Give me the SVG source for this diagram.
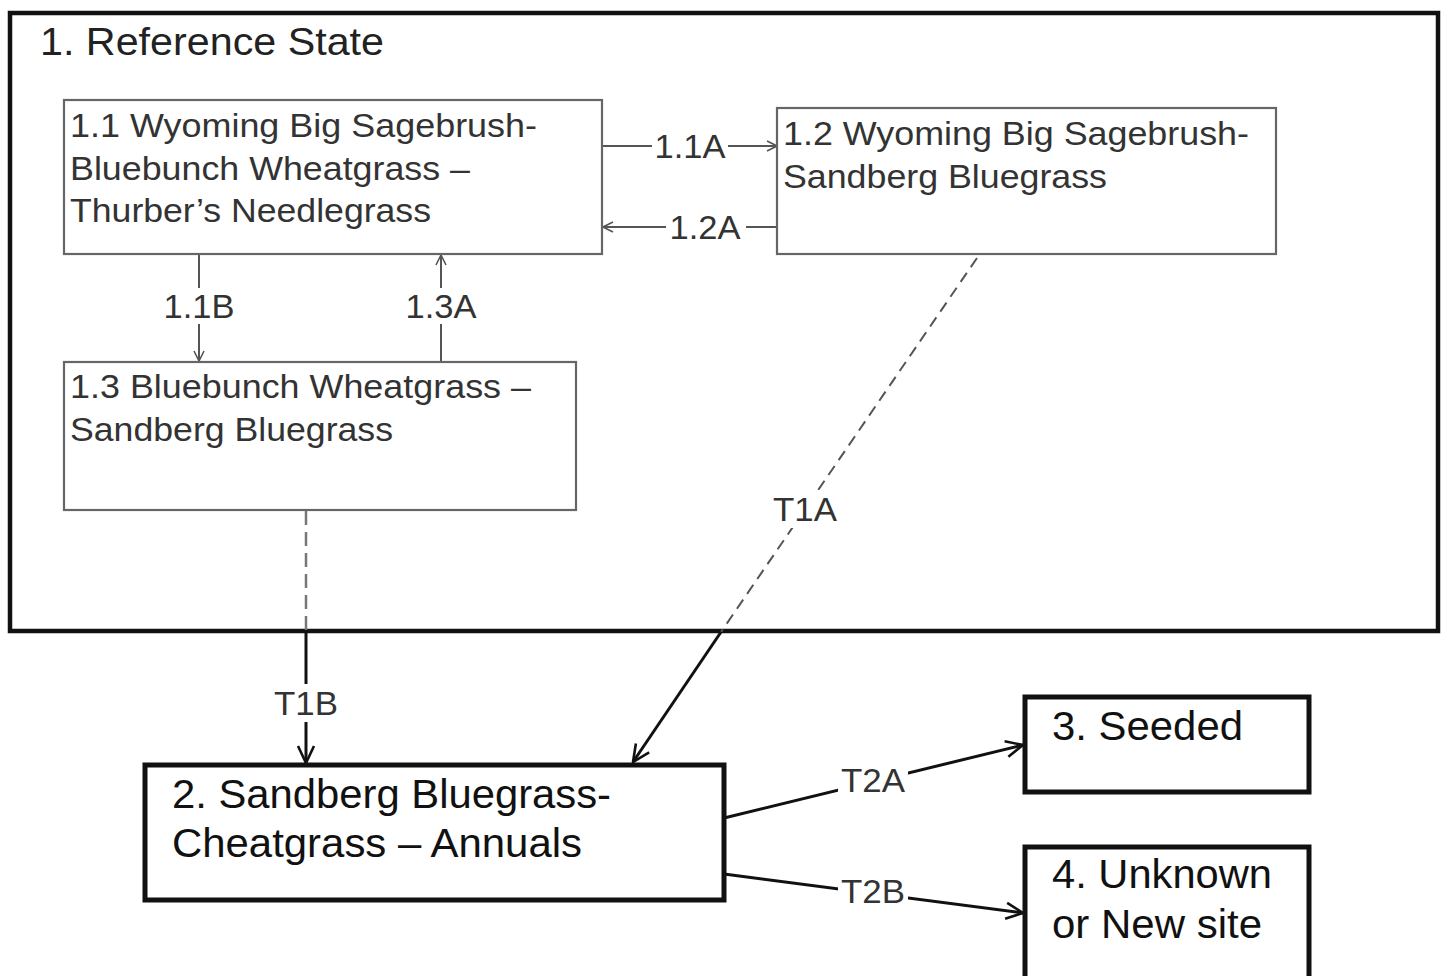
<svg xmlns="http://www.w3.org/2000/svg" width="1446" height="976" viewBox="0 0 1446 976">
<defs>
<marker id="ag" viewBox="0 0 12 12" refX="11" refY="6" markerWidth="12" markerHeight="12" markerUnits="userSpaceOnUse" orient="auto"><path d="M1,1 L11,6 L1,11" fill="none" stroke="#555" stroke-width="1.6"/></marker>
<marker id="ab" viewBox="0 0 20 20" refX="19" refY="10" markerWidth="20" markerHeight="20" markerUnits="userSpaceOnUse" orient="auto"><path d="M2,2 L19,10 L2,18" fill="none" stroke="#111" stroke-width="2.6"/></marker>
<style>
text{font-family:"Liberation Sans",Arial,sans-serif}
.sm{font-size:34px;fill:#333}
.lg{font-size:40px;fill:#111}
.lb{font-size:33px;fill:#333}
.gbox{fill:#fff;stroke:#666;stroke-width:2.2}
.bbox{fill:#fff;stroke:#111;stroke-width:5}
.gl{stroke:#555;stroke-width:2;fill:none}
.bl{stroke:#111;stroke-width:3;fill:none}
.bg{fill:#fff}
</style>
</defs>
<rect width="1446" height="976" fill="#fff"/>
<g id="state1">
<rect x="10" y="13" width="1428" height="618" fill="#fff" stroke="#111" stroke-width="4.5"/>
<text x="40" y="55" font-size="39" fill="#222" textLength="344" lengthAdjust="spacingAndGlyphs">1. Reference State</text>
</g>
<g id="connectors">
<line class="gl" x1="602" y1="146" x2="777" y2="146" marker-end="url(#ag)"/>
<line class="gl" x1="777" y1="227" x2="603" y2="227" marker-end="url(#ag)"/>
<line class="gl" x1="199" y1="254" x2="199" y2="361" marker-end="url(#ag)"/>
<line class="gl" x1="441" y1="362" x2="441" y2="255" marker-end="url(#ag)"/>
<line x1="306" y1="511" x2="306" y2="632" stroke="#777" stroke-width="2.5" stroke-dasharray="14,7"/>
<line class="bl" x1="306" y1="632" x2="306" y2="763" marker-end="url(#ab)"/>
<line x1="977" y1="258" x2="721" y2="632" stroke="#555" stroke-width="2" stroke-dasharray="11,7"/>
<line class="bl" x1="721" y1="632" x2="633" y2="762" marker-end="url(#ab)"/>
<line class="bl" x1="724" y1="818" x2="1023" y2="745" marker-end="url(#ab)"/>
<line class="bl" x1="724" y1="874" x2="1023" y2="913" marker-end="url(#ab)"/>
<rect class="bg" x="652" y="130" width="76" height="32"/>
<text class="lb" x="690" y="158" text-anchor="middle" textLength="71" lengthAdjust="spacingAndGlyphs">1.1A</text>
<rect class="bg" x="666" y="211" width="80" height="32"/>
<text class="lb" x="705" y="239" text-anchor="middle" textLength="71" lengthAdjust="spacingAndGlyphs">1.2A</text>
<rect class="bg" x="160" y="288" width="78" height="36"/>
<text class="lb" x="199" y="318" text-anchor="middle" textLength="71" lengthAdjust="spacingAndGlyphs">1.1B</text>
<rect class="bg" x="402" y="288" width="78" height="36"/>
<text class="lb" x="441" y="318" text-anchor="middle" textLength="71" lengthAdjust="spacingAndGlyphs">1.3A</text>
<rect class="bg" x="268" y="684" width="76" height="38"/>
<text class="lb" x="306" y="715" text-anchor="middle" textLength="64" lengthAdjust="spacingAndGlyphs">T1B</text>
<rect class="bg" x="770" y="490" width="70" height="38"/>
<text class="lb" x="805" y="521" text-anchor="middle" textLength="64" lengthAdjust="spacingAndGlyphs">T1A</text>
<rect class="bg" x="838" y="762" width="70" height="36"/>
<text class="lb" x="873" y="792" text-anchor="middle" textLength="64" lengthAdjust="spacingAndGlyphs">T2A</text>
<rect class="bg" x="838" y="874" width="70" height="36"/>
<text class="lb" x="873" y="903" text-anchor="middle" textLength="64" lengthAdjust="spacingAndGlyphs">T2B</text>
</g>
<g id="n11">
<rect class="gbox" x="64" y="100" width="538" height="154"/>
<text class="sm" x="70" y="137" textLength="467" lengthAdjust="spacingAndGlyphs">1.1 Wyoming Big Sagebrush-</text>
<text class="sm" x="70" y="180" textLength="400" lengthAdjust="spacingAndGlyphs">Bluebunch Wheatgrass –</text>
<text class="sm" x="70" y="222" textLength="361" lengthAdjust="spacingAndGlyphs">Thurber’s Needlegrass</text>
</g>
<g id="n12">
<rect class="gbox" x="777" y="108" width="499" height="146"/>
<text class="sm" x="783" y="145" textLength="466" lengthAdjust="spacingAndGlyphs">1.2 Wyoming Big Sagebrush-</text>
<text class="sm" x="783" y="188" textLength="324" lengthAdjust="spacingAndGlyphs">Sandberg Bluegrass</text>
</g>
<g id="n13">
<rect class="gbox" x="64" y="362" width="512" height="148"/>
<text class="sm" x="70" y="398" textLength="461" lengthAdjust="spacingAndGlyphs">1.3 Bluebunch Wheatgrass –</text>
<text class="sm" x="70" y="441" textLength="323" lengthAdjust="spacingAndGlyphs">Sandberg Bluegrass</text>
</g>
<g id="n2">
<rect class="bbox" x="145" y="765" width="579" height="135"/>
<text class="lg" x="172" y="808" textLength="439" lengthAdjust="spacingAndGlyphs">2. Sandberg Bluegrass-</text>
<text class="lg" x="172" y="857" textLength="410" lengthAdjust="spacingAndGlyphs">Cheatgrass – Annuals</text>
</g>
<g id="n3">
<rect class="bbox" x="1025" y="697" width="284" height="95"/>
<text class="lg" x="1052" y="740" textLength="191" lengthAdjust="spacingAndGlyphs">3. Seeded</text>
</g>
<g id="n4">
<rect class="bbox" x="1025" y="847" width="284" height="135"/>
<text class="lg" x="1052" y="888" textLength="220" lengthAdjust="spacingAndGlyphs">4. Unknown</text>
<text class="lg" x="1052" y="938" textLength="210" lengthAdjust="spacingAndGlyphs">or New site</text>
</g>
</svg>
